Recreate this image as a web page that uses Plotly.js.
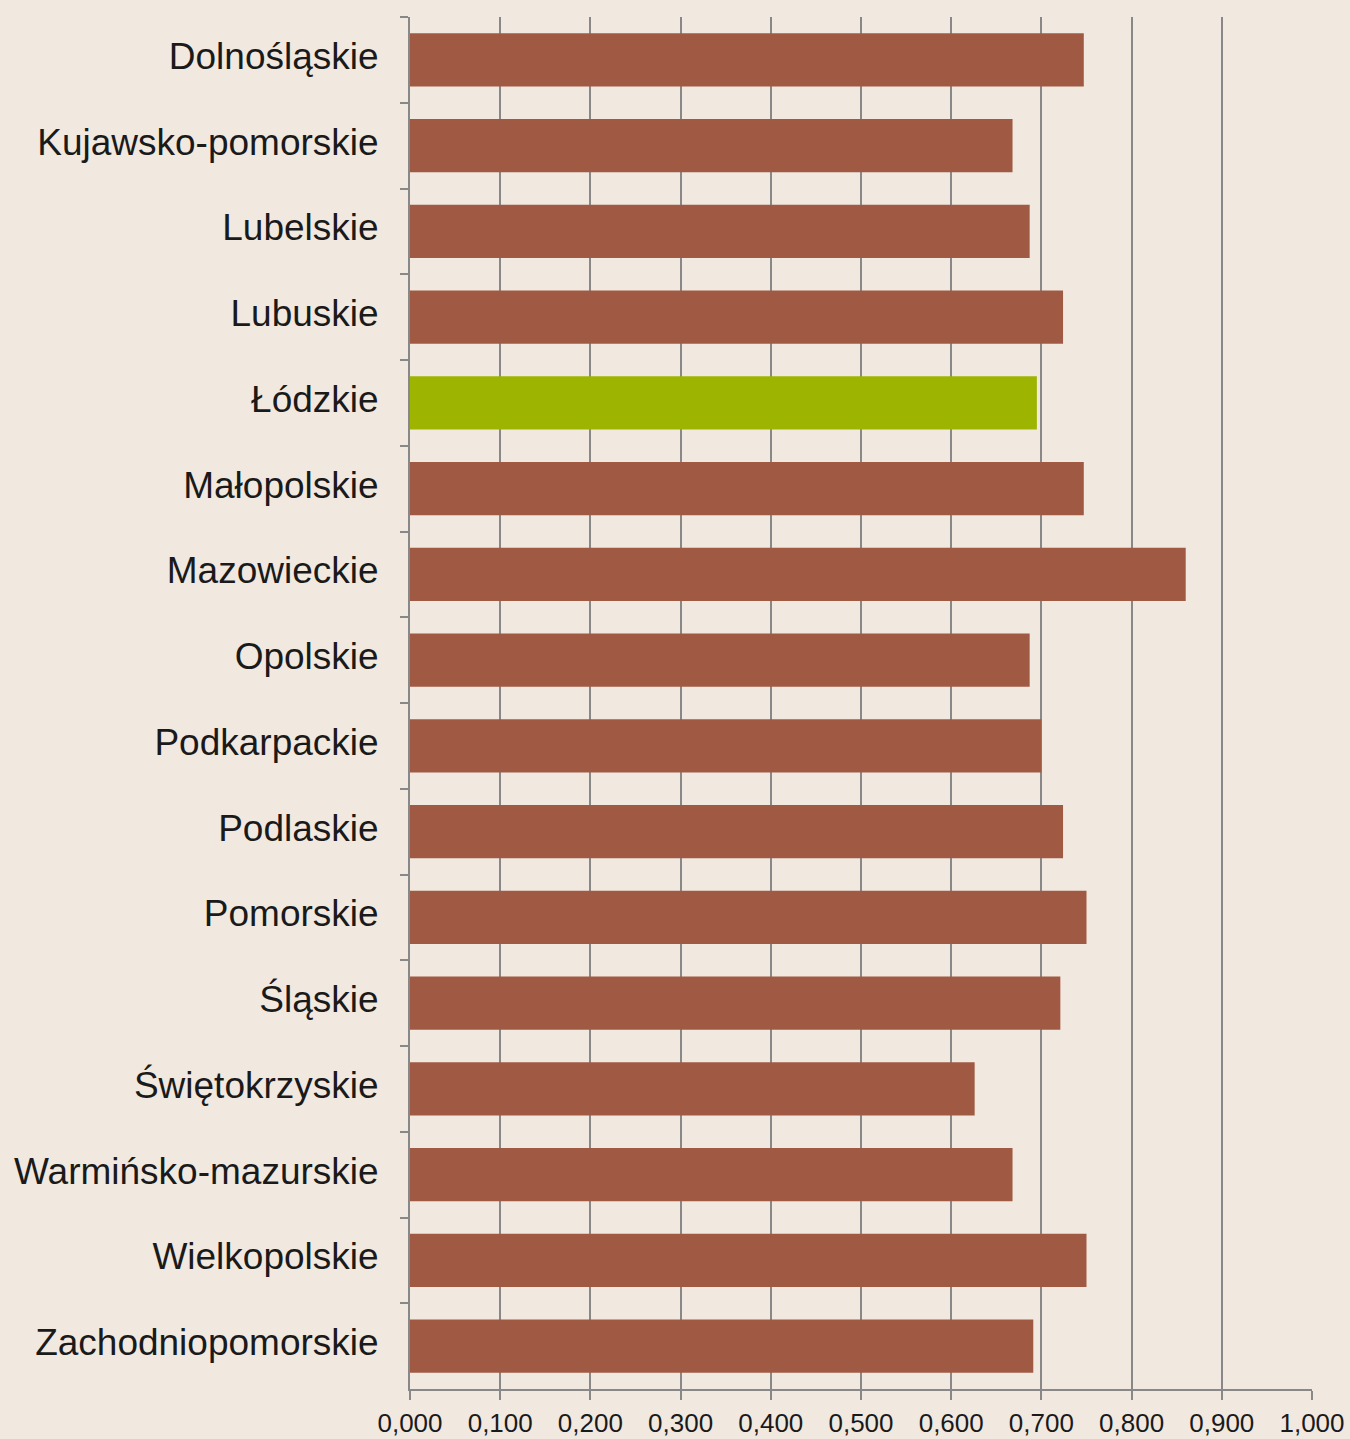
<!DOCTYPE html>
<html>
<head>
<meta charset="utf-8">
<script src="https://cdn.plot.ly/plotly-3.0.1.min.js"></script>
<style>html,body{margin:0;padding:0;background:#F1E9E0;}#chart{width:1350px;height:1439px;}</style>
</head>
<body>
<div id="chart"></div>
<script>
const regions = ["Dolnośląskie","Kujawsko-pomorskie","Lubelskie","Lubuskie","Łódzkie","Małopolskie","Mazowieckie","Opolskie","Podkarpackie","Podlaskie","Pomorskie","Śląskie","Świętokrzyskie","Warmińsko-mazurskie","Wielkopolskie","Zachodniopomorskie"];
const values = [0.747,0.668,0.687,0.724,0.695,0.747,0.860,0.687,0.700,0.724,0.750,0.721,0.626,0.668,0.750,0.691];
const highlight = "Łódzkie";
const xTicks = [0,0.1,0.2,0.3,0.4,0.5,0.6,0.7,0.8,0.9,1.0];

const colors = regions.map(r => r === highlight ? "#9DB500" : "#A05A44");

const trace = {
  type: "bar",
  orientation: "h",
  x: values,
  y: regions,
  marker: {color: colors},
  hoverinfo: "x+y"
};

const layout = {
  width: 1350, height: 1439,
  margin: {l: 410, r: 38, t: 17, b: 50},
  paper_bgcolor: "#F1E9E0",
  plot_bgcolor: "#F1E9E0",
  font: {family: "'Liberation Sans', Arial, sans-serif", color: "#1a1a1a"},
  bargap: 0.38,
  separators: ", ",
  showlegend: false,
  xaxis: {
    range: [0, 1],
    tickvals: xTicks,
    tickformat: ".3f",
    showgrid: true, gridcolor: "#888888", gridwidth: 2,
    zeroline: false,
    showline: true, linecolor: "#888888", linewidth: 2,
    ticks: "outside", ticklen: 9, tickwidth: 2, tickcolor: "#888888",
    ticklabelstandoff: 1,
    tickfont: {size: 26, color: "#1a1a1a"}
  },
  yaxis: {
    type: "category",
    autorange: false,
    range: [15.5, -0.5],
    showgrid: false,
    zeroline: false,
    showline: true, linecolor: "#888888", linewidth: 2,
    ticks: "outside", tickson: "boundaries", ticklen: 8, tickwidth: 2, tickcolor: "#888888",
    ticklabelstandoff: 22,
    ticklabelshift: 4,
    tickfont: {size: 37, color: "#1a1a1a"}
  }
};

Plotly.newPlot("chart", [trace], layout, {displayModeBar: false, staticPlot: true});
</script>
</body>
</html>
